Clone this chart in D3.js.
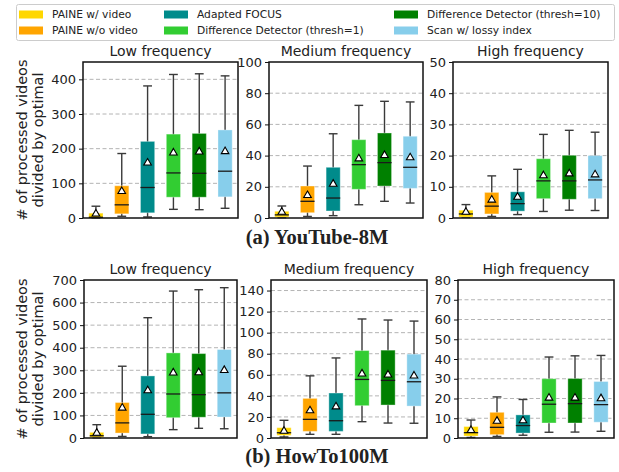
<!DOCTYPE html>
<html>
<head>
<meta charset="utf-8">
<script src="https://cdn.jsdelivr.net/npm/d3@7"></script>
<style>
  body { margin: 0; background: #fff; }
  text { font-family: "DejaVu Sans", sans-serif; fill: #222; }
</style>
</head>
<body>
<div id="chart"></div>
<script>
// methods in the order they appear in each panel
var methods = ["PAINE w/ video", "PAINE w/o video", "Adapted FOCUS",
  "Difference Detector (thresh=1)", "Difference Detector (thresh=10)", "Scan w/ lossy index"];
var colors = ["#ffd700", "#ffa500", "#008b8b", "#32cd32", "#008000", "#87ceeb"];
var titles = ["Low frequency", "Medium frequency", "High frequency"];
var captions = ["(a) YouTube-8M", "(b) HowTo100M"];

// each box: [lower whisker, q1, median, q3, upper whisker, mean]
var ytLow = [[0, 0.5, 2, 14, 34, 12], [5, 12, 38, 93, 186, 77], [3, 15, 88, 221, 381, 159],
  [25, 60, 130, 242, 414, 188], [24, 60, 129, 244, 416, 191], [28, 61, 135, 254, 410, 192]];
var ytMed = [[0.2, 0.6, 2, 4.3, 7.7, 3.8], [1, 3.4, 10.7, 20.5, 33.3, 14.5], [1.5, 4.5, 12.8, 32.5, 54, 21.8],
  [8.5, 18.4, 34.2, 50.2, 72.2, 38], [10.7, 20.5, 35.5, 54.5, 74.8, 40.2], [9.6, 19, 32.5, 52.4, 74.4, 38.7]];
var ytHigh = [[0.2, 0.3, 1.3, 2.5, 4.3, 1.9], [0.5, 1.3, 3.8, 8.2, 13.5, 5.8], [1.1, 2.2, 4.6, 8.4, 15.6, 6.7],
  [2.1, 6.2, 11.9, 19, 26.8, 13.6], [2.5, 6, 11.9, 20.1, 28.1, 14.2], [2.4, 6.2, 12.2, 20, 27.5, 13.9]];
var htLow = [[1, 3, 10, 25, 59, 22], [7, 22, 67, 157, 318, 133], [6, 18, 105, 275, 533, 210],
  [37, 90, 195, 377, 651, 289], [43, 92, 192, 374, 657, 290], [41, 93, 200, 392, 666, 300]];
var htMed = [[1, 2.5, 5, 9.8, 16.8, 6.6], [3.5, 6.3, 17.7, 37.6, 59, 26], [3.5, 6.3, 16.4, 42.7, 76, 29.7],
  [15.5, 30.7, 55.6, 83, 113, 61], [14.2, 31.3, 54.7, 83.4, 112, 60], [14, 30.3, 53.4, 79.6, 111, 59]];
var htHigh = [[0.3, 1, 2.7, 5.8, 9.1, 3.9], [0.8, 1.7, 5.4, 13, 20.8, 8.6], [1.4, 2.5, 6.3, 11.7, 19.5, 8.8],
  [2.9, 7.6, 17.1, 30, 41, 20.3], [3, 7.6, 17.4, 30.1, 41.6, 20.3], [3.4, 8, 16.9, 28.6, 41.8, 20]];

var yMax = [[450, 100, 50], [700, 150, 80]];
var yStep = [[100, 20, 10], [100, 20, 10]];
var yTop = [[400, 100, 50], [700, 140, 80]];

var data = [[ytLow, ytMed, ytHigh], [htLow, htMed, htHigh]];

// layout
var rows = [
  { top: 62, bottom: 218, xs: [[83, 238], [269, 423], [453, 608]], cap: 244 },
  { top: 280, bottom: 438, xs: [[84, 237], [271, 427], [458, 614]], cap: 463 }
];

var svg = d3.select("#chart").append("svg")
  .attr("width", 619)
  .attr("height", 472);

rows.forEach(function (row, r) {
  row.xs.forEach(function (xr, p) {
    var boxes = data[r][p];
    var x = d3.scalePoint().domain(methods).range(xr).padding(0.5);
    var y = d3.scaleLinear().domain([0, yMax[r][p]]).range([row.bottom, row.top]);
    var ticks = d3.range(0, yTop[r][p] + 0.001, yStep[r][p]);
    var bw = x.step() * 0.55;
    var cw = bw * 0.62;
    var g = svg.append("g");

    g.selectAll("line.grid")
      .data(ticks.filter(function (t) { return t > 0 && t < yMax[r][p]; }))
      .enter().append("line")
      .attr("x1", xr[0]).attr("x2", xr[1])
      .attr("y1", function (d) { return y(d); })
      .attr("y2", function (d) { return y(d); })
      .attr("stroke", "#b4b4b4")
      .attr("stroke-width", 1)
      .attr("stroke-dasharray", "4,2.5");

    var b = g.selectAll("g.box").data(boxes).enter().append("g");
    var cx = function (d, i) { return x(methods[i]); };

    // whiskers
    b.append("line")
      .attr("x1", cx).attr("x2", cx)
      .attr("y1", function (d) { return y(d[4]); })
      .attr("y2", function (d) { return y(d[0]); })
      .attr("stroke", "#3a3a3a").attr("stroke-width", 1.4);
    [0, 4].forEach(function (k) {
      b.append("line")
        .attr("x1", function (d, i) { return cx(d, i) - cw / 2; })
        .attr("x2", function (d, i) { return cx(d, i) + cw / 2; })
        .attr("y1", function (d) { return y(d[k]); })
        .attr("y2", function (d) { return y(d[k]); })
        .attr("stroke", "#3a3a3a").attr("stroke-width", 1.4);
    });

    b.append("rect")
      .attr("x", function (d, i) { return cx(d, i) - bw / 2; })
      .attr("width", bw)
      .attr("y", function (d) { return y(d[3]); })
      .attr("height", function (d) { return y(d[1]) - y(d[3]); })
      .attr("fill", function (d, i) { return colors[i]; })
      .attr("stroke", "#fff").attr("stroke-opacity", 0.35).attr("stroke-width", 1);

    b.append("line")
      .attr("x1", function (d, i) { return cx(d, i) - bw / 2; })
      .attr("x2", function (d, i) { return cx(d, i) + bw / 2; })
      .attr("y1", function (d) { return y(d[2]); })
      .attr("y2", function (d) { return y(d[2]); })
      .attr("stroke", "#1a1a1a").attr("stroke-width", 1.3);

    b.append("path")
      .attr("d", d3.symbol().type(d3.symbolTriangle).size(25))
      .attr("transform", function (d, i) { return "translate(" + cx(d, i) + "," + y(d[5]) + ")"; })
      .attr("fill", "#fff").attr("stroke", "#000").attr("stroke-width", 1.1);

    g.append("rect")
      .attr("x", xr[0]).attr("y", row.top)
      .attr("width", xr[1] - xr[0]).attr("height", row.bottom - row.top)
      .attr("fill", "none").attr("stroke", "#111").attr("stroke-width", 1.5);

    var ax = g.append("g")
      .attr("transform", "translate(" + xr[0] + ",0)")
      .call(d3.axisLeft(y).tickValues(ticks).tickSize(4).tickPadding(3));
    ax.select(".domain").remove();
    ax.selectAll("text").style("font-size", "13px").attr("fill", "#222");
    ax.selectAll("line").attr("stroke", "#111");

    g.append("text")
      .attr("x", (xr[0] + xr[1]) / 2)
      .attr("y", row.top - 6)
      .attr("text-anchor", "middle")
      .style("font-size", "14px")
      .text(titles[p]);
  });

  var mid = (row.top + row.bottom) / 2;
  var yl = svg.append("text")
    .attr("transform", "translate(27," + mid + ") rotate(-90)")
    .attr("text-anchor", "middle")
    .style("font-size", "14.5px");
  yl.append("tspan").attr("x", 0).attr("dy", 0).text("# of processed videos");
  yl.append("tspan").attr("x", 0).attr("dy", 16).text("divided by optimal");

  svg.append("text")
    .attr("x", 317).attr("y", row.cap)
    .attr("text-anchor", "middle")
    .style("font-family", "'Liberation Serif', serif")
    .style("font-weight", "bold")
    .style("font-size", "20.5px")
    .attr("fill", "#111")
    .text(captions[r]);
});

// legend
var legend = svg.append("g");
legend.append("rect")
  .attr("x", 16.5).attr("y", 4.5).attr("width", 598).attr("height", 36)
  .attr("rx", 2).attr("fill", "#fff").attr("stroke", "#cccccc");
var colX = [19, 164, 394];
methods.forEach(function (m, i) {
  var cx = colX[Math.floor(i / 2)];
  var cy = i % 2 === 0 ? 14.5 : 30.5;
  legend.append("rect")
    .attr("x", cx).attr("y", cy - 4).attr("width", 24).attr("height", 8)
    .attr("fill", colors[i]);
  legend.append("text")
    .attr("x", cx + 33).attr("y", cy + 3.9)
    .style("font-size", "10.7px")
    .text(m);
});
</script>
</body>
</html>
